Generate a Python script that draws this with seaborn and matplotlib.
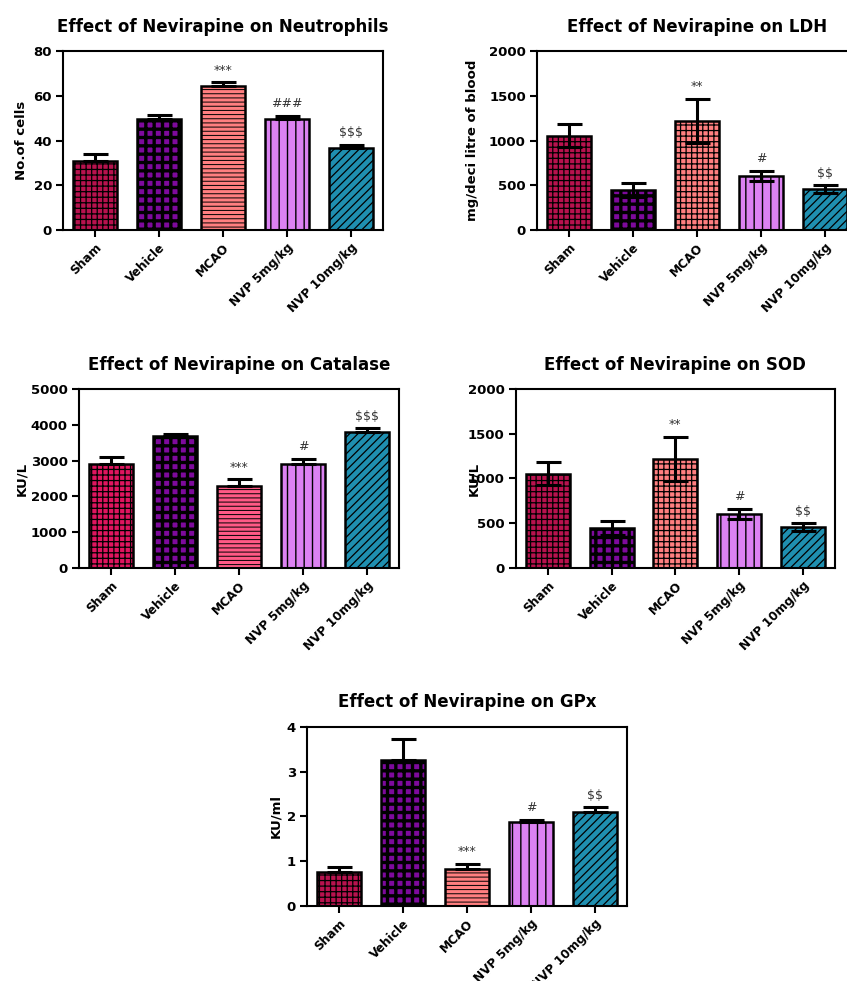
import matplotlib
matplotlib.use("Agg")
import matplotlib.pyplot as plt
import seaborn as sns

groups = ['Sham', 'Vehicle', 'MCAO', 'NVP 5mg/kg', 'NVP 10mg/kg']

neut_mean = [31, 49.5, 64.5, 49.5, 36.5]
neut_err = [3, 2, 1.5, 1.5, 1.5]
neut_sig = ['', '', '***', '###', '$$$']

ldh_mean = [1055, 445, 1222, 607, 458]
ldh_err = [130, 75, 245, 55, 40]
ldh_sig = ['', '', '**', '#', '$$']

cat_mean = [2910, 3680, 2280, 2905, 3790]
cat_err = [200, 75, 195, 150, 110]
cat_sig = ['', '', '***', '#', '$$$']

sod_mean = [1055, 445, 1222, 607, 458]
sod_err = [130, 75, 245, 55, 40]
sod_sig = ['', '', '**', '#', '$$']

gpx_mean = [0.75, 3.27, 0.82, 1.88, 2.10]
gpx_err = [0.12, 0.45, 0.12, 0.04, 0.10]
gpx_sig = ['', '', '***', '#', '$$']

sns.set_style('ticks')
plt.rcParams['font.family'] = ['DejaVu Sans']
plt.rcParams['hatch.linewidth'] = 0.8
for k in ['text.color', 'axes.labelcolor', 'xtick.color', 'ytick.color']:
    plt.rcParams[k] = 'black'

fig = plt.figure(figsize=(8.47, 9.81), dpi=100)

# (hatch, hatch linewidth) per bar
hatch_std = [('+++', 0.9), ('++', 2.4), ('----', 0.7), ('||', 1.0), ('////', 0.9)]
hatch_ldh = [('+++', 0.9), ('++', 2.4), ('+++', 0.9), ('||', 1.0), ('////', 0.9)]

col_std = ['#b8124e', '#7d0a9c', '#ff7f80', '#dc82f2', '#1f8fb0']
col_cat = ['#e0155f', '#7d0a9c', '#ff5a86', '#dc82f2', '#1f8fb0']


def panel(rect, mean, err, sig, title, ylabel, ymax, yticks, colors, hatches,
          both_sides, label_x):
    ax = fig.add_axes(rect)
    sns.barplot(x=groups, y=mean, hue=groups, palette=colors, legend=False,
                errorbar=None, width=0.69, saturation=1, edgecolor='black',
                linewidth=1.8, ax=ax, zorder=2)
    for p, (h, lw) in zip(ax.patches, hatches):
        p.set_hatch(h)
        if hasattr(p, 'set_hatch_linewidth'):
            p.set_hatch_linewidth(lw)
    lower = err if both_sides else [0] * len(err)
    ax.errorbar(range(len(groups)), mean, yerr=[lower, err], fmt='none',
                ecolor='black', elinewidth=2.2, capsize=9, capthick=2.2, zorder=3)
    for i, s in enumerate(sig):
        if s:
            ax.annotate(s, (i, mean[i] + err[i]), xytext=(0, 4),
                        textcoords='offset points', ha='center', va='bottom',
                        fontsize=9, color='#333333', parse_math=False)
    ax.set_xlim(-0.5, 4.5)
    ax.set_ylim(0, ymax)
    ax.set_yticks(yticks)
    ax.set_title(title, fontsize=12, fontweight='bold', pad=14)
    ax.set_ylabel(ylabel, fontsize=9.5, fontweight='bold')
    ax.yaxis.set_label_coords(label_x, 0.5)
    ax.set_xticks(range(len(groups)))
    ax.set_xticklabels(groups, rotation=45, ha='right', rotation_mode='anchor',
                       fontsize=8.7, fontweight='bold')
    for t in ax.get_yticklabels():
        t.set_fontweight('bold')
        t.set_fontsize(9.5)
    ax.tick_params(axis='both', direction='out', length=5, width=1.5, pad=3)
    for sp in ax.spines.values():
        sp.set_linewidth(1.5)
        sp.set_color('black')
    return ax


panel([0.0744, 0.7655, 0.3778, 0.1825], neut_mean, neut_err, neut_sig,
      'Effect of Nevirapine on Neutrophils', 'No.of cells', 80,
      [0, 20, 40, 60, 80], col_std, hatch_std, False, -0.11)
panel([0.634, 0.7655, 0.3778, 0.1825], ldh_mean, ldh_err, ldh_sig,
      'Effect of Nevirapine on LDH', 'mg/deci litre of blood', 2000,
      [0, 500, 1000, 1500, 2000], col_std, hatch_ldh, True, -0.18)
panel([0.0933, 0.421, 0.3778, 0.1825], cat_mean, cat_err, cat_sig,
      'Effect of Nevirapine on Catalase', 'KU/L', 5000,
      [0, 1000, 2000, 3000, 4000, 5000], col_cat, hatch_std, False, -0.16)
panel([0.609, 0.421, 0.3766, 0.1825], sod_mean, sod_err, sod_sig,
      'Effect of Nevirapine on SOD', 'KU/L', 2000,
      [0, 500, 1000, 1500, 2000], col_std, hatch_ldh, True, -0.113)
panel([0.3625, 0.0765, 0.3778, 0.1825], gpx_mean, gpx_err, gpx_sig,
      'Effect of Nevirapine on GPx', 'KU/ml', 4,
      [0, 1, 2, 3, 4], col_std, hatch_std, False, -0.078)

fig.savefig('out.png', dpi=100)
